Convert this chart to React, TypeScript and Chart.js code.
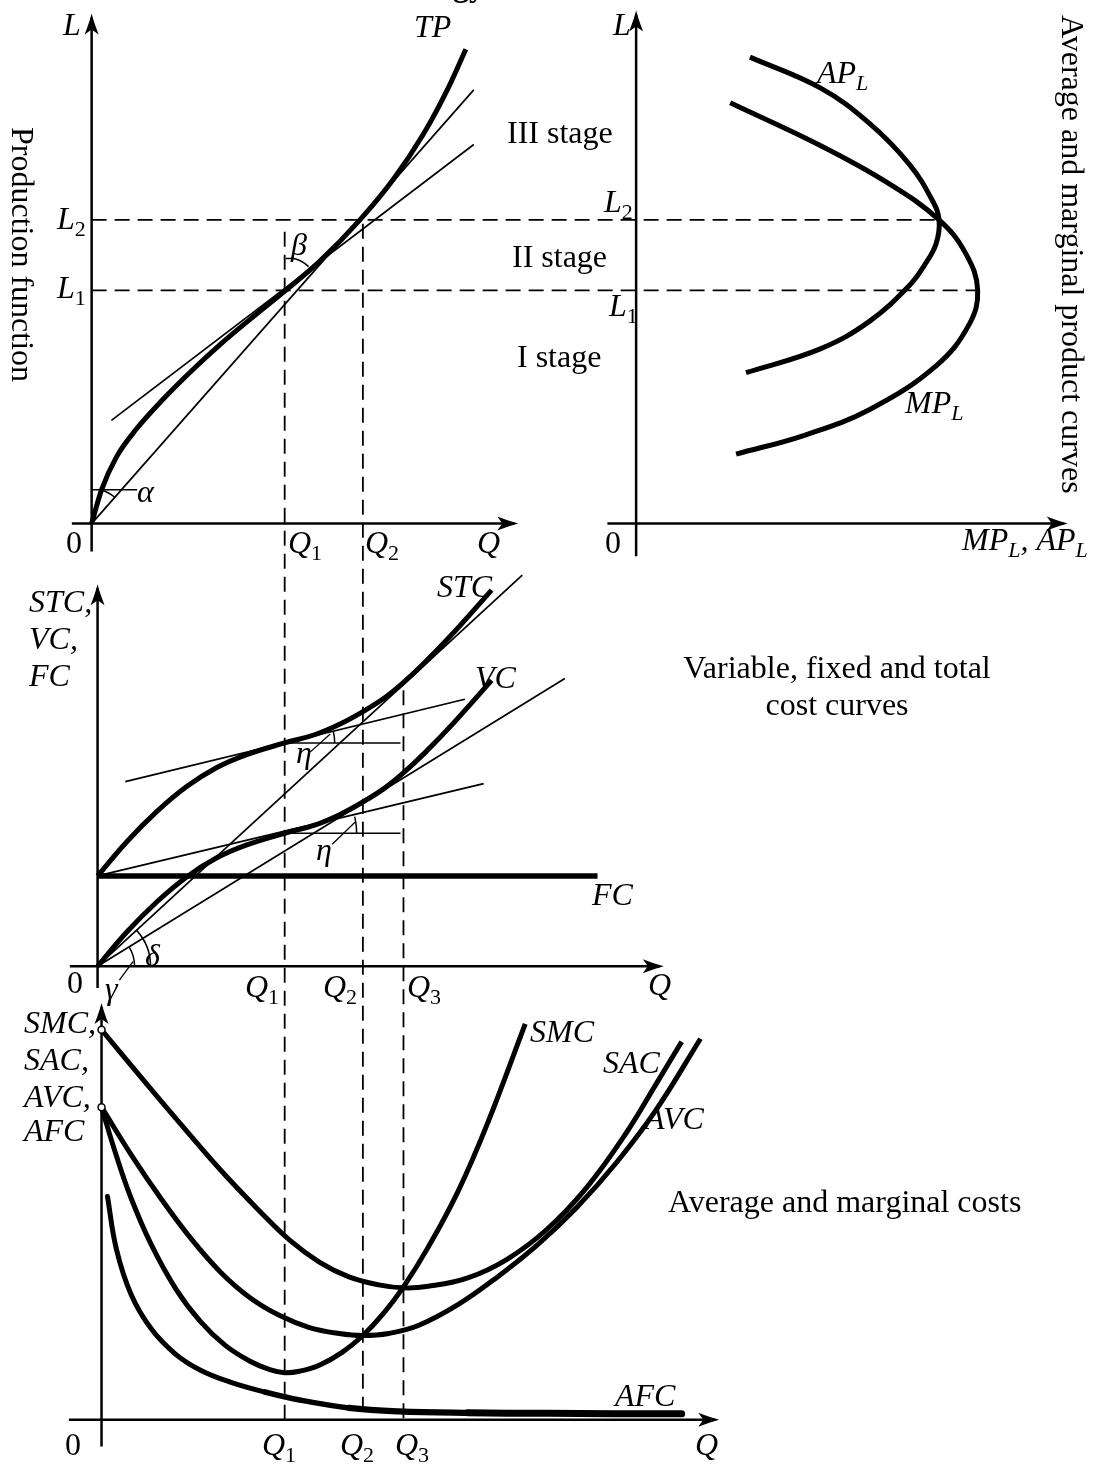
import React, { useEffect, useRef } from "react";
import { Chart, registerables } from "chart.js";

Chart.register(...registerables);

const W = 1099;
const H = 1468;
const UNIT = 10; // pixels per data unit on every panel

// Panel origins on the page (layout only)
const ORIGIN_A: [number, number] = [87, 522];
const ORIGIN_B: [number, number] = [637, 522];
const ORIGIN_C: [number, number] = [93, 968];
const ORIGIN_D: [number, number] = [97, 1425];

// ---------------- DATA ----------------
// Panel A: production function (Q horizontal, L vertical)
const L1 = 23.5;
const L2 = 30.6;
const Q1_A = 19.6;
const tpQ = [0, 1, 2.5, 4.5, 7, 10, 13, 16, 19.6, 23, 27.1, 30.5, 33.5, 36, 37.8];
const tpL = [0, 3.4, 6.7, 9.5, 12.3, 15.3, 18.06, 20.58, 23.5, 26.39, 30.6, 34.72, 39.22, 43.85, 47.8];
const rayAQ = [0, 38.6];
const rayAL = [0, 43.7];
const tanAQ = [2.0, 38.6];
const tanAL = [10.4, 38.2];
const alphaTickQ = [0, 4.6];
const alphaTickL = [3.4, 3.4];
const betaTickQ = [19.6, 20.4];
const betaTickL = [26.7, 26.7];

// Panel B: average and marginal product (x = MP_L, AP_L ; y = L)
const apX = [11.5, 18.6, 23.6, 27.6, 29.9, 30.6, 30.3, 29.1, 27.6, 23.6, 18.6, 11.1];
const apL = [47.0, 43.9, 40.3, 36.2, 32.6, 30.6, 28.2, 26.0, 24.0, 20.4, 17.6, 15.2];
const mpX = [9.5, 18.6, 25.3, 30.6, 33.3, 34.5, 33.6, 30.3, 23.6, 17.0, 10.1];
const mpL = [42.4, 38.1, 34.4, 30.6, 27.2, 23.5, 20.0, 15.9, 11.5, 8.9, 7.0];

// Panel C: total costs
const Q1_C = 18.9;
const FC = 9.1;
const costQ = [0, 3, 6, 9, 12, 15, 18.9, 22, 24.5, 26.8, 29, 30.8, 33, 36, 39.8];
const vcV = [0, 3.5, 6.5, 9.0, 10.9, 12.2, 13.4, 14.25, 15.3, 16.55, 17.95, 19.4, 21.45, 24.55, 28.8];
const stcV = [9.1, 12.6, 15.6, 18.1, 20.0, 21.3, 22.5, 23.35, 24.4, 25.65, 27.05, 28.5, 30.55, 33.65, 37.9];
const fcQ = [0, 50.5];
const fcV = [FC, FC];
const ray1Q = [0, 42.9];
const ray1V = [0, 39.4];
const ray2Q = [0, 47.2];
const ray2V = [0, 29.0];
const tanStcQ = [2.8, 37.1];
const tanStcV = [18.6, 26.9];
const tanVcQ = [0, 39.0];
const tanVcV = [9.1, 18.4];
const hUpQ = [Q1_C, 30.6];
const hUpV = [22.5, 22.5];
const hLoQ = [Q1_C, 30.6];
const hLoV = [13.4, 13.4];
const etaUpQ = [21.5, 23.5];
const etaUpV = [21.6, 23.4];
const etaLoQ = [23.7, 26.0];
const etaLoV = [12.3, 14.5];
const gammaQ = [2.2, 3.6];
const gammaV = [-1.4, 0.5];

// Panel D: average and marginal costs
const Q1_D = 18.5;
const Q2_D = 26.4;
const Q3_D = 30.5;
const sacQ = [0, 4, 8, 12, 16, 19, 22, 25, 28, 30.5, 33, 37, 41, 45, 49, 53, 56, 58.6];
const sacV = [39.3, 34.5, 29.8, 25.2, 21.0, 18.1, 15.9, 14.4, 13.6, 13.3, 13.45, 14.3, 16.2, 19.2, 23.4, 28.9, 33.8, 38.1];
const avcQ = [0, 3, 6, 9, 12, 15, 18, 21, 24, 26.4, 29, 32, 36, 40, 44, 48, 52, 56, 60.5];
const avcV = [31.5, 26.7, 22.3, 18.3, 14.9, 12.3, 10.5, 9.3, 8.7, 8.5, 8.7, 9.5, 11.6, 14.4, 17.6, 21.4, 25.9, 31.2, 38.4];
const smcQ = [0, 1.5, 3, 5, 7.5, 10, 12.5, 15, 17, 18.5, 20, 22, 24.3, 26.4, 28.5, 30.5, 33, 36, 39, 42.8];
const smcV = [31.5, 26.6, 22.3, 17.7, 13.2, 9.9, 7.5, 5.9, 5.05, 4.75, 4.9, 5.5, 6.8, 8.5, 10.75, 13.4, 17.4, 23.0, 29.9, 39.9];
const afcQ = [0.6, 1.5, 3, 5, 7.5, 10, 13, 16.5, 20, 25, 30, 37, 45, 58.6];
const afcV = [22.5, 17.2, 12.6, 9.2, 6.6, 5.0, 3.8, 2.8, 2.0, 1.2, 0.85, 0.7, 0.65, 0.6];
const startQ = [0, 0];
const startV = [39.3, 31.5];

// ---------------- helpers ----------------
const pts = (xs: number[], ys: number[]) => xs.map((x, i) => ({ x, y: ys[i] }));

function line(xs: number[], ys: number[], xAxisID: string, yAxisID: string, width: number, tension = 0.4, extra: any = {}) {
  return {
    data: pts(xs, ys),
    xAxisID,
    yAxisID,
    showLine: true,
    pointRadius: 0,
    borderColor: "#000",
    backgroundColor: "#000",
    borderWidth: width,
    tension,
    fill: false,
    borderCapStyle: "butt",
    borderJoinStyle: "round",
    ...extra,
  };
}

const THICK = 5;
const THIN = 1.7;
const MONO = { cubicInterpolationMode: "monotone" };

const datasets: any[] = [
  // open circles on the cost axis (drawn on top)
  {
    data: pts(startQ, startV),
    xAxisID: "xD",
    yAxisID: "yD",
    showLine: false,
    pointRadius: 3.5,
    pointBackgroundColor: "#fff",
    pointBorderColor: "#000",
    pointBorderWidth: 1.5,
    order: -1,
  },
  // Panel A
  line(tpQ, tpL, "xA", "yA", THICK, 0.4, MONO),
  line(rayAQ, rayAL, "xA", "yA", THIN, 0),
  line(tanAQ, tanAL, "xA", "yA", THIN, 0),
  line(alphaTickQ, alphaTickL, "xA", "yA", 1.5, 0),
  line(betaTickQ, betaTickL, "xA", "yA", 1.5, 0),
  // Panel B
  line(apX, apL, "xB", "yA", THICK),
  line(mpX, mpL, "xB", "yA", THICK),
  // Panel C
  line(costQ, stcV, "xC", "yC", THICK),
  line(costQ, vcV, "xC", "yC", THICK),
  line(fcQ, fcV, "xC", "yC", 5.5, 0),
  line(ray1Q, ray1V, "xC", "yC", THIN, 0),
  line(ray2Q, ray2V, "xC", "yC", THIN, 0),
  line(tanStcQ, tanStcV, "xC", "yC", THIN, 0),
  line(tanVcQ, tanVcV, "xC", "yC", THIN, 0),
  line(hUpQ, hUpV, "xC", "yC", 1.5, 0),
  line(hLoQ, hLoV, "xC", "yC", 1.5, 0),
  line(etaUpQ, etaUpV, "xC", "yC", 1.3, 0),
  line(etaLoQ, etaLoV, "xC", "yC", 1.3, 0),
  line(gammaQ, gammaV, "xC", "yC", 1.3, 0),
  // Panel D
  line(sacQ, sacV, "xD", "yD", THICK),
  line(avcQ, avcV, "xD", "yD", THICK),
  line(smcQ, smcV, "xD", "yD", THICK),
  line(afcQ, afcV, "xD", "yD", THICK, 0.4, {
    borderCapStyle: "round",
    segment: {
      borderWidth: (c: any) => {
        const x = c.p0.parsed.x;
        return x < 16 ? 5 : x < 25 ? 5.5 : x < 37 ? 6.2 : 7;
      },
    },
  }),
];

// axes: [xScale, yScale, xFrom, xTo, yFrom, yTo]
const AXES: [string, string, number, number, number, number][] = [
  ["xA", "yA", -2.0, 43.1, -2.8, 51.4],
  ["xB", "yA", -2.9, 43.6, -3.3, 51.7],
  ["xC", "yC", -2.8, 57.2, -2.2, 38.5],
  ["xD", "yD", -3.3, 62.4, -2.7, 42.0],
];

// angle arcs: [xScale, yScale, cx, cy, radius px, fromDeg, toDeg]
const ARCS: [string, string, number, number, number, number, number][] = [
  ["xA", "yA", 0, 0, 35, 48.5, 74],
  ["xA", "yA", Q1_A, L1, 33, 46, 81],
  ["xC", "yC", Q1_C, 22.5, 50, 0, 13.6],
  ["xC", "yC", Q1_C, 13.4, 72, 0, 13.4],
  ["xC", "yC", 0, 0, 53, 0, 42.6],
  ["xC", "yC", 0, 0, 37, 0, 31.6],
];

type Part = [string, string];
type Label = { x: number; y: number; parts: Part[]; align?: "left" | "center" | "right"; rot?: boolean };

const FONT = '"Liberation Serif", "Times New Roman", serif';
const FONTS: Record<string, string> = {
  i: `italic 32px ${FONT}`,
  r: `32px ${FONT}`,
  b: `bold 32px ${FONT}`,
  s: `22px ${FONT}`,
  si: `italic 22px ${FONT}`,
};

const LABELS: Label[] = [
  { x: 485, y: -4, parts: [["Technology", "b"]], align: "right" },
  // Panel A
  { x: 63, y: 35, parts: [["L", "i"]] },
  { x: 414, y: 37, parts: [["TP", "i"]] },
  { x: 66, y: 553, parts: [["0", "r"]] },
  { x: 288, y: 553, parts: [["Q", "i"], ["1", "s"]] },
  { x: 365, y: 553, parts: [["Q", "i"], ["2", "s"]] },
  { x: 477, y: 553, parts: [["Q", "i"]] },
  { x: 57, y: 229, parts: [["L", "i"], ["2", "s"]] },
  { x: 57, y: 298, parts: [["L", "i"], ["1", "s"]] },
  { x: 137, y: 502, parts: [["α", "i"]] },
  { x: 291, y: 255, parts: [["β", "i"]] },
  { x: 507, y: 143, parts: [["III stage", "r"]] },
  { x: 512, y: 267, parts: [["II stage", "r"]] },
  { x: 517, y: 367, parts: [["I stage", "r"]] },
  { x: 12, y: 127, parts: [["Production function", "r"]], rot: true },
  // Panel B
  { x: 613, y: 35, parts: [["L", "i"]] },
  { x: 605, y: 553, parts: [["0", "r"]] },
  { x: 962, y: 550, parts: [["MP", "i"], ["L", "si"], [", ", "i"], ["AP", "i"], ["L", "si"]] },
  { x: 817, y: 83, parts: [["AP", "i"], ["L", "si"]] },
  { x: 905, y: 413, parts: [["MP", "i"], ["L", "si"]] },
  { x: 604, y: 212, parts: [["L", "i"], ["2", "s"]] },
  { x: 609, y: 316, parts: [["L", "i"], ["1", "s"]] },
  { x: 1062, y: 15, parts: [["Average and marginal product curves", "r"]], rot: true },
  // Panel C
  { x: 29, y: 612, parts: [["STC,", "i"]] },
  { x: 29, y: 649, parts: [["VC,", "i"]] },
  { x: 29, y: 686, parts: [["FC", "i"]] },
  { x: 437, y: 597, parts: [["STC", "i"]] },
  { x: 475, y: 688, parts: [["VC", "i"]] },
  { x: 592, y: 905, parts: [["FC", "i"]] },
  { x: 67, y: 993, parts: [["0", "r"]] },
  { x: 245, y: 997, parts: [["Q", "i"], ["1", "s"]] },
  { x: 323, y: 997, parts: [["Q", "i"], ["2", "s"]] },
  { x: 407, y: 997, parts: [["Q", "i"], ["3", "s"]] },
  { x: 648, y: 995, parts: [["Q", "i"]] },
  { x: 296, y: 763, parts: [["η", "i"]] },
  { x: 316, y: 860, parts: [["η", "i"]] },
  { x: 145, y: 966, parts: [["δ", "i"]] },
  { x: 105, y: 999, parts: [["γ", "i"]] },
  { x: 837, y: 678, parts: [["Variable, fixed and total", "r"]], align: "center" },
  { x: 837, y: 715, parts: [["cost curves", "r"]], align: "center" },
  // Panel D
  { x: 24, y: 1033, parts: [["SMC,", "i"]] },
  { x: 24, y: 1070, parts: [["SAC,", "i"]] },
  { x: 24, y: 1107, parts: [["AVC,", "i"]] },
  { x: 24, y: 1141, parts: [["AFC", "i"]] },
  { x: 530, y: 1042, parts: [["SMC", "i"]] },
  { x: 603, y: 1073, parts: [["SAC", "i"]] },
  { x: 645, y: 1129, parts: [["AVC", "i"]] },
  { x: 615, y: 1406, parts: [["AFC", "i"]] },
  { x: 65, y: 1455, parts: [["0", "r"]] },
  { x: 262, y: 1455, parts: [["Q", "i"], ["1", "s"]] },
  { x: 340, y: 1455, parts: [["Q", "i"], ["2", "s"]] },
  { x: 395, y: 1455, parts: [["Q", "i"], ["3", "s"]] },
  { x: 695, y: 1455, parts: [["Q", "i"]] },
  { x: 668, y: 1212, parts: [["Average and marginal costs", "r"]] },
];

function drawArrow(ctx: CanvasRenderingContext2D, tx: number, ty: number, dir: "right" | "up") {
  const len = 21;
  const half = 7;
  ctx.save();
  ctx.translate(tx, ty);
  if (dir === "up") ctx.rotate(-Math.PI / 2);
  ctx.beginPath();
  ctx.moveTo(0, 0);
  ctx.quadraticCurveTo(-8, -2, -len, -half);
  ctx.lineTo(-len + 5, 0);
  ctx.lineTo(-len, half);
  ctx.quadraticCurveTo(-8, 2, 0, 0);
  ctx.closePath();
  ctx.fill();
  ctx.restore();
}

function drawLabel(ctx: CanvasRenderingContext2D, l: Label) {
  ctx.save();
  ctx.fillStyle = "#000";
  ctx.textBaseline = "alphabetic";
  ctx.textAlign = "left";
  let total = 0;
  const widths = l.parts.map(([t, s]) => {
    ctx.font = FONTS[s];
    const w = ctx.measureText(t).width;
    total += w;
    return w;
  });
  ctx.translate(l.x, l.y);
  if (l.rot) ctx.rotate(Math.PI / 2);
  let cx = l.align === "center" ? -total / 2 : l.align === "right" ? -total : 0;
  l.parts.forEach(([t, s], i) => {
    ctx.font = FONTS[s];
    const sub = s === "s" || s === "si";
    ctx.fillText(t, cx, sub ? 7 : 0);
    cx += widths[i];
  });
  ctx.restore();
}

const decorPlugin = {
  id: "decor",
  beforeDraw(chart: any) {
    const ctx = chart.ctx;
    ctx.save();
    ctx.fillStyle = "#fff";
    ctx.fillRect(0, 0, chart.width, chart.height);
    ctx.restore();
  },
  beforeDatasetsDraw(chart: any) {
    const ctx: CanvasRenderingContext2D = chart.ctx;
    const s = chart.scales;
    ctx.save();
    ctx.strokeStyle = "#000";
    ctx.fillStyle = "#000";
    // dashed guides
    ctx.lineWidth = 1.8;
    ctx.setLineDash([15, 8]);
    const vGuide = (x: number, y0: number, y1: number) => {
      ctx.beginPath();
      ctx.moveTo(x, y0);
      ctx.lineTo(x, y1);
      ctx.stroke();
    };
    const hGuide = (y: number, x0: number, x1: number) => {
      ctx.beginPath();
      ctx.moveTo(x0, y);
      ctx.lineTo(x1, y);
      ctx.stroke();
    };
    const bottom = s.yD.getPixelForValue(0);
    vGuide(s.xD.getPixelForValue(Q1_D), s.yA.getPixelForValue(29.4), bottom);
    vGuide(s.xD.getPixelForValue(Q2_D), s.yA.getPixelForValue(30.2), bottom);
    vGuide(s.xD.getPixelForValue(Q3_D), s.yC.getPixelForValue(27.8), bottom);
    hGuide(s.yA.getPixelForValue(L2), s.xA.getPixelForValue(0), s.xB.getPixelForValue(Math.max(...apX)));
    hGuide(s.yA.getPixelForValue(L1), s.xA.getPixelForValue(0), s.xB.getPixelForValue(Math.max(...mpX)));
    ctx.setLineDash([]);
    // axes
    ctx.lineWidth = 2.5;
    for (const [xs, ys, x0, x1, y0, y1] of AXES) {
      const X = s[xs];
      const Y = s[ys];
      const oy = Y.getPixelForValue(0);
      const ox = X.getPixelForValue(0);
      const xe = X.getPixelForValue(x1);
      const ye = Y.getPixelForValue(y1);
      ctx.beginPath();
      ctx.moveTo(X.getPixelForValue(x0), oy);
      ctx.lineTo(xe - 4, oy);
      ctx.stroke();
      ctx.beginPath();
      ctx.moveTo(ox, Y.getPixelForValue(y0));
      ctx.lineTo(ox, ye + 4);
      ctx.stroke();
      drawArrow(ctx, xe, oy, "right");
      drawArrow(ctx, ox, ye, "up");
    }
    // angle arcs
    ctx.lineWidth = 1.5;
    for (const [xs, ys, cxv, cyv, r, a0, a1] of ARCS) {
      const cx = s[xs].getPixelForValue(cxv);
      const cy = s[ys].getPixelForValue(cyv);
      ctx.beginPath();
      ctx.arc(cx, cy, r, (-a1 * Math.PI) / 180, (-a0 * Math.PI) / 180);
      ctx.stroke();
    }
    ctx.restore();
  },
  afterDatasetsDraw(chart: any) {
    const ctx: CanvasRenderingContext2D = chart.ctx;
    for (const l of LABELS) drawLabel(ctx, l);
  },
};

function xScale(o: [number, number]) {
  return {
    type: "linear",
    axis: "x",
    position: "bottom",
    display: false,
    bounds: "data",
    min: -o[0] / UNIT,
    max: (W - o[0]) / UNIT,
  };
}
function yScale(o: [number, number]) {
  return {
    type: "linear",
    axis: "y",
    position: "left",
    display: false,
    bounds: "data",
    min: (o[1] - H) / UNIT,
    max: o[1] / UNIT,
  };
}

export default function App() {
  const ref = useRef<HTMLCanvasElement>(null);
  useEffect(() => {
    if (!ref.current) return;
    const chart = new Chart(ref.current, {
      type: "scatter",
      data: { datasets },
      options: {
        responsive: false,
        animation: false,
        devicePixelRatio: 1,
        events: [],
        layout: { padding: 0 },
        plugins: { legend: { display: false }, tooltip: { enabled: false }, title: { display: false } },
        scales: {
          xA: xScale(ORIGIN_A),
          yA: yScale(ORIGIN_A),
          xB: xScale(ORIGIN_B),
          xC: xScale(ORIGIN_C),
          yC: yScale(ORIGIN_C),
          xD: xScale(ORIGIN_D),
          yD: yScale(ORIGIN_D),
        } as any,
      },
      plugins: [decorPlugin],
    } as any);
    return () => chart.destroy();
  }, []);
  return (
    <div style={{ position: "absolute", left: 0, top: 0, width: W, height: H, background: "#fff" }}>
      <canvas ref={ref} width={W} height={H} style={{ width: W, height: H, display: "block" }} />
    </div>
  );
}
